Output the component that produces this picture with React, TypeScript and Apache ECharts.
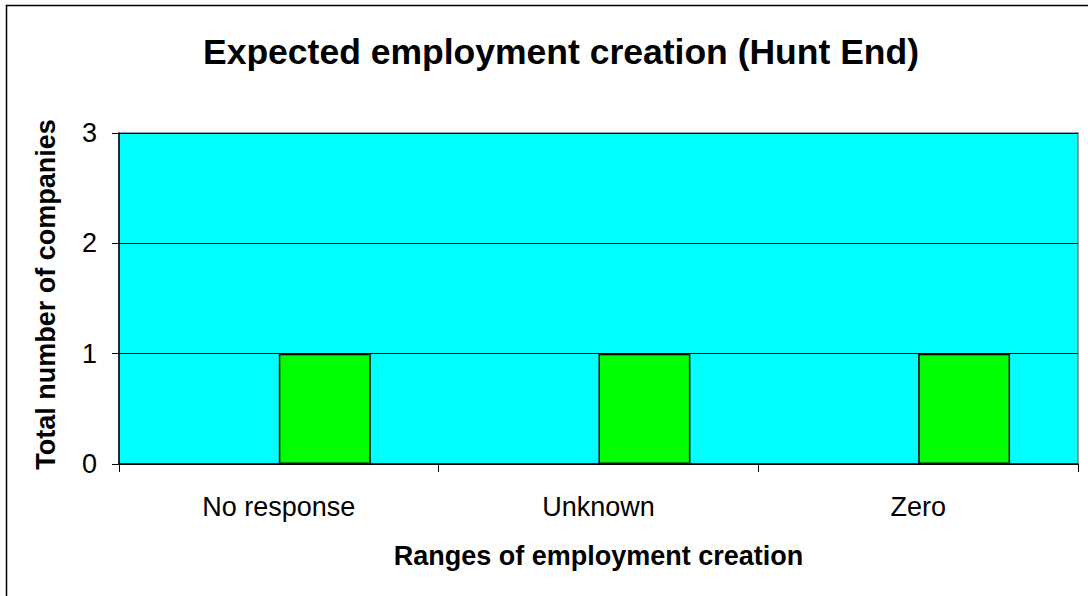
import React, { useEffect, useRef } from "react";
import * as echarts from "echarts";

const titleText = "Expected employment creation (Hunt End)";
const categories = ["No response", "Unknown", "Zero"];
const emptySeriesValues = [0, 0, 0];
const companyCounts = [1, 1, 1];
const yTicks = { min: 0, max: 3, interval: 1 };
const xAxisName = "Ranges of employment creation";
const yAxisName = "Total number of companies";

const FONT = "'Liberation Sans', Arial, Helvetica, sans-serif";

export default function App() {
  const ref = useRef<HTMLDivElement>(null);
  useEffect(() => {
    if (!ref.current) return;
    const chart = echarts.init(ref.current, undefined, { renderer: "svg" });
    chart.setOption({
      animation: false,
      backgroundColor: "#ffffff",
      textStyle: { fontFamily: FONT },
      title: {
        text: titleText,
        left: 556,
        top: 29,
        textAlign: "center",
        textStyle: { fontFamily: FONT, fontSize: 35.5, fontWeight: "bold", color: "#000" },
      },
      graphic: [
        {
          type: "rect",
          shape: { x: 6.5, y: 5.5, width: 1100, height: 620 },
          style: { fill: "none", stroke: "#000", lineWidth: 1.5 },
          silent: true,
          z: 100,
        },
      ],
      grid: {
        left: 119,
        top: 133,
        right: 10,
        bottom: 132,
        show: true,
        backgroundColor: "#00FFFF",
        borderColor: "#808080",
        borderWidth: 1.5,
      },
      xAxis: {
        type: "category",
        data: categories,
        name: xAxisName,
        nameLocation: "middle",
        nameGap: 78,
        nameTextStyle: { fontFamily: FONT, fontSize: 27, fontWeight: "bold", color: "#000" },
        axisLine: { show: true, lineStyle: { color: "#000", width: 1.5 } },
        axisTick: { show: true, alignWithLabel: false, length: 8, lineStyle: { color: "#000" } },
        axisLabel: { fontFamily: FONT, fontSize: 27, color: "#000", margin: 29 },
        splitLine: { show: false },
      },
      yAxis: {
        type: "value",
        min: yTicks.min,
        max: yTicks.max,
        interval: yTicks.interval,
        name: yAxisName,
        nameLocation: "middle",
        nameGap: 60,
        nameRotate: 90,
        nameTextStyle: { fontFamily: FONT, fontSize: 27, fontWeight: "bold", color: "#000", padding: [0, 0, 0, 8] },
        axisLine: { show: true, lineStyle: { color: "#000", width: 1.5 } },
        axisTick: { show: true, length: 7, lineStyle: { color: "#000" } },
        axisLabel: { fontFamily: FONT, fontSize: 27, color: "#000", margin: 22 },
        splitLine: { show: true, lineStyle: { color: "#000", width: 1 } },
      },
      series: [
        {
          name: "Series 1",
          type: "bar",
          data: emptySeriesValues,
          barGap: "0%",
          barCategoryGap: "42.5%",
          itemStyle: { color: "#0000FF", borderWidth: 0 },
        },
        {
          name: "Series 2",
          type: "bar",
          data: companyCounts,
          barGap: "0%",
          barCategoryGap: "42.5%",
          itemStyle: { color: "#00FF00", borderColor: "#000", borderWidth: 1.5 },
        },
      ],
    });
    return () => chart.dispose();
  }, []);
  return (
    <div
      ref={ref}
      style={{ position: "fixed", left: 0, top: 0, width: 1088, height: 596 }}
    />
  );
}
